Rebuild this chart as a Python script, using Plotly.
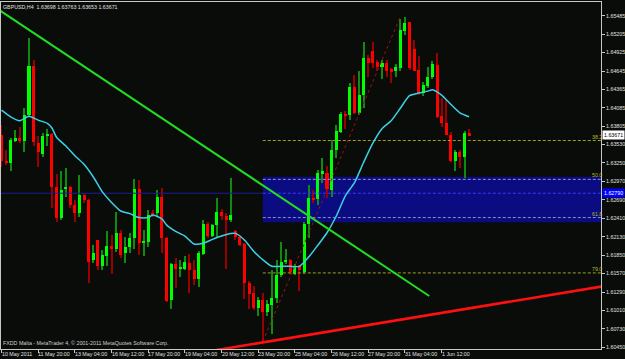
import plotly.graph_objects as go

# ---------------- data ----------------
bar_index = list(range(103))
opens = [1.6367, 1.6328, 1.6325, 1.6359, 1.6363, 1.6359, 1.6398, 1.6472, 1.6356, 1.6339,
         1.6366, 1.6369, 1.6289, 1.6241, 1.6285, 1.6288, 1.6261, 1.6249, 1.6276, 1.6269,
         1.6178, 1.6208, 1.6169, 1.6184, 1.6199, 1.6195, 1.6219, 1.6188, 1.6198, 1.6211,
         1.6285, 1.6203, 1.6205, 1.6249, 1.6249, 1.6274, 1.6211, 1.6117, 1.6172, 1.6164,
         1.6164, 1.6173, 1.6162, 1.6149, 1.6187, 1.6232, 1.6214, 1.6231, 1.6251, 1.6244,
         1.6238, 1.6221, 1.6213, 1.6202, 1.6143, 1.6127, 1.6104, 1.6117, 1.6098, 1.6109,
         1.6120, 1.6155, 1.6175, 1.6178, 1.6157, 1.6169, 1.6160, 1.6233, 1.6272, 1.6270,
         1.6309, 1.6310, 1.6284, 1.6344, 1.6372, 1.6400, 1.6397, 1.6441, 1.6401, 1.6428,
         1.6485, 1.6495, 1.6478, 1.6471, 1.6476, 1.6467, 1.6465, 1.6469, 1.6526, 1.6539,
         1.6498, 1.6466, 1.6431, 1.6442, 1.6455, 1.6474, 1.6396, 1.6385, 1.6367, 1.6328,
         1.6341, 1.6334, 1.63698]
highs = [1.6383, 1.6345, 1.6363, 1.6375, 1.6380, 1.6408, 1.6514, 1.6482, 1.6366, 1.6370,
         1.6377, 1.6371, 1.6308, 1.6312, 1.6317, 1.6290, 1.6269, 1.6307, 1.6278, 1.6270,
         1.6200, 1.6208, 1.6193, 1.6221, 1.6216, 1.6251, 1.6223, 1.6213, 1.6218, 1.6300,
         1.6299, 1.6223, 1.6254, 1.6254, 1.6284, 1.6287, 1.6213, 1.6173, 1.6180, 1.6178,
         1.6184, 1.6187, 1.6178, 1.6192, 1.6239, 1.6236, 1.6233, 1.6271, 1.6255, 1.6249,
         1.6302, 1.6223, 1.6216, 1.6203, 1.6145, 1.6138, 1.6122, 1.6127, 1.6117, 1.6162,
         1.6178, 1.6205, 1.6195, 1.6179, 1.6171, 1.6170, 1.6236, 1.6292, 1.6284, 1.6314,
         1.6332, 1.6320, 1.6360, 1.6383, 1.6403, 1.6404, 1.6446, 1.6459, 1.6464, 1.6508,
         1.6489, 1.6509, 1.6482, 1.6482, 1.6481, 1.6469, 1.6475, 1.6543, 1.6547, 1.6539,
         1.6512, 1.6487, 1.6448, 1.6470, 1.6479, 1.6492, 1.6423, 1.6421, 1.6372, 1.6345,
         1.6345, 1.6374, 1.63763]
lows = [1.6319, 1.6322, 1.6313, 1.6357, 1.6355, 1.6342, 1.6395, 1.6350, 1.6319, 1.6334,
        1.6350, 1.6256, 1.6235, 1.6239, 1.6274, 1.6257, 1.6236, 1.6243, 1.6264, 1.6143,
        1.6173, 1.6162, 1.6162, 1.6168, 1.6157, 1.6190, 1.6180, 1.6173, 1.6188, 1.6195,
        1.6185, 1.6184, 1.6198, 1.6243, 1.6243, 1.6188, 1.6114, 1.6103, 1.6135, 1.6152,
        1.6162, 1.6128, 1.6140, 1.6136, 1.6185, 1.6211, 1.6213, 1.6213, 1.6238, 1.6164,
        1.6236, 1.6208, 1.6199, 1.6118, 1.6103, 1.6102, 1.6092, 1.6054, 1.6092, 1.6066,
        1.6112, 1.6152, 1.6172, 1.6156, 1.6155, 1.6130, 1.6157, 1.6211, 1.6264, 1.6261,
        1.6294, 1.6271, 1.6274, 1.6332, 1.6370, 1.6376, 1.6390, 1.6400, 1.6398, 1.6408,
        1.6456, 1.6469, 1.6464, 1.6453, 1.6456, 1.6447, 1.6456, 1.6464, 1.6519, 1.6466,
        1.6464, 1.6428, 1.6427, 1.6438, 1.6452, 1.6393, 1.6380, 1.6367, 1.6327, 1.6312,
        1.6317, 1.6302, 1.63653]
closes = [1.6328, 1.6325, 1.6360, 1.6363, 1.6358, 1.6398, 1.6472, 1.6357, 1.6341, 1.6366,
          1.6368, 1.6288, 1.6241, 1.6284, 1.6289, 1.6261, 1.6249, 1.6276, 1.6268, 1.6175,
          1.6189, 1.6168, 1.6185, 1.6199, 1.6195, 1.6219, 1.6185, 1.6198, 1.6211, 1.6285,
          1.6203, 1.6207, 1.6246, 1.6246, 1.6274, 1.6211, 1.6116, 1.6172, 1.6164, 1.6167,
          1.6174, 1.6162, 1.6149, 1.6188, 1.6233, 1.6214, 1.6231, 1.6251, 1.6244, 1.6239,
          1.6246, 1.6212, 1.6200, 1.6142, 1.6126, 1.6104, 1.6117, 1.6098, 1.6111, 1.6120,
          1.6155, 1.6175, 1.6177, 1.6160, 1.6169, 1.6162, 1.6233, 1.6271, 1.6269, 1.6310,
          1.6312, 1.6285, 1.6344, 1.6373, 1.6400, 1.6396, 1.6441, 1.6401, 1.6428, 1.6485,
          1.6476, 1.6476, 1.6471, 1.6476, 1.6465, 1.6464, 1.6470, 1.6527, 1.6538, 1.6469,
          1.6465, 1.6431, 1.6443, 1.6455, 1.6475, 1.6395, 1.6385, 1.6367, 1.6328, 1.6342,
          1.6334, 1.6370, 1.63671]

ma_bars = [0, 2, 4, 6, 8, 10, 11, 12, 14, 16, 18, 20, 22, 24, 26, 28, 30, 32, 33, 35, 36,
           38, 40, 42, 44, 46, 48, 50, 51, 53, 55, 57, 59, 61, 63, 65, 67, 69, 71, 73, 75,
           77, 79, 81, 83, 85, 87, 89, 91, 93, 94, 96, 98, 100, 102]
ma_vals = [1.6405, 1.6395, 1.6389, 1.6396, 1.6390, 1.6385, 1.6378, 1.6364, 1.6351, 1.6336,
           1.6323, 1.6304, 1.6281, 1.6265, 1.6252, 1.6248, 1.6242, 1.6242, 1.6246, 1.6240,
           1.6231, 1.6221, 1.6214, 1.6202, 1.6203, 1.6209, 1.6214, 1.6218, 1.6218, 1.6208,
           1.6191, 1.6178, 1.6168, 1.6168, 1.6168, 1.6168, 1.6182, 1.6200, 1.6219, 1.6244,
           1.6275, 1.6295, 1.6326, 1.6355, 1.6377, 1.6389, 1.6408, 1.6427, 1.6431, 1.6434,
           1.6436, 1.6428, 1.6414, 1.6401, 1.6395]

x_tick_bars = [0, 8, 16, 24, 32, 40, 48, 56, 64, 72, 80, 88, 96]
x_tick_labels = ["10 May 2011", "11 May 20:00", "13 May 04:00", "16 May 12:00",
                 "17 May 20:00", "19 May 04:00", "20 May 12:00", "23 May 20:00",
                 "25 May 04:00", "26 May 12:00", "27 May 20:00", "31 May 04:00",
                 "1 Jun 12:00"]
price_ticks = [1.65485, 1.65205, 1.64925, 1.64645, 1.64365, 1.64085, 1.63805, 1.63530,
               1.63250, 1.62970, 1.62690, 1.62410, 1.62130, 1.61850, 1.61570, 1.61290,
               1.61010, 1.60730, 1.60450]
price_tick_labels = ["%.5f" % v for v in price_ticks]

green_tl_bars = [-2, 93.3]
green_tl_prices = [1.6564, 1.6123]
red_tl_bars = [40, 135]
red_tl_prices = [1.6033, 1.6142]
fib_base_bars = [57, 87]
fib_base_prices = [1.6054, 1.6547]
fib_labels = ["38.2", "50.0", "61.8", "79.0"]
fib_prices = [1.6359, 1.6300, 1.6242, 1.6158]
fib_start_bar = 57
zone_start_bar = 57
zone_top = 1.6304
zone_bottom = 1.6235
blue_line_price = 1.6279
blue_line_label = "1.62790"
last_price = 1.63671
header = "GBPUSD,H4  1.63698 1.63763 1.63653 1.63671"
credit = "FXDD Malta - MetaTrader 4, \u00a9 2001-2011 MetaQuotes Software Corp."

# ---------------- styling ----------------
BG = "#0a0c0a"
AX = "#c8c8c8"
FONT = "Liberation Sans"
FS = 5.3
X_RANGE = [-0.108, 130.77]
Y_RANGE = [1.60425, 1.65693]
X_FAR = 140

up_body, dn_body = "#00ff00", "#ff0000"
up_wick, dn_wick = "#108a10", "#990000"

fig = go.Figure()

# wicks (thin bars) then bodies
wick_colors = [up_wick if c >= o else dn_wick for o, c in zip(opens, closes)]
fig.add_trace(go.Bar(x=bar_index, base=lows, y=[h - l for h, l in zip(highs, lows)],
                     width=0.22, marker=dict(color=wick_colors, line=dict(width=0)),
                     hoverinfo="skip", showlegend=False))
body_colors = [up_body if c >= o else dn_body for o, c in zip(opens, closes)]
fig.add_trace(go.Bar(x=bar_index, base=[min(o, c) for o, c in zip(opens, closes)],
                     y=[max(abs(c - o), 0.00012) for o, c in zip(opens, closes)],
                     width=0.66, marker=dict(color=body_colors, line=dict(width=0)),
                     hoverinfo="skip", showlegend=False))

# blue horizontal line: solid outside the zone, dashed inside
fig.add_trace(go.Scatter(x=[X_RANGE[0] - 1, zone_start_bar], y=[blue_line_price] * 2,
                         mode="lines", line=dict(color="#1c1c96", width=1),
                         hoverinfo="skip", showlegend=False))
fig.add_trace(go.Scatter(x=[zone_start_bar, X_FAR], y=[blue_line_price] * 2,
                         mode="lines", line=dict(color="#3a3aff", width=1, dash="3px,2px"),
                         hoverinfo="skip", showlegend=False))

# fib levels
for lab, p in zip(fib_labels, fib_prices):
    inside = zone_bottom <= p <= zone_top
    fig.add_trace(go.Scatter(x=[fib_start_bar, X_FAR], y=[p, p], mode="lines",
                             line=dict(color="#9090c8" if inside else "#a0a020", width=1,
                                       dash="3px,2px"),
                             hoverinfo="skip", showlegend=False))
    fig.add_annotation(x=1, xref="paper", xanchor="right", xshift=2, y=p, yref="y",
                       yanchor="bottom", text=lab, showarrow=False, borderpad=0,
                       font=dict(family=FONT, size=FS, color="#b8b830"))

# fib base dotted line
fig.add_trace(go.Scatter(x=fib_base_bars, y=fib_base_prices, mode="lines",
                         line=dict(color="#a01010", width=1, dash="dot"),
                         hoverinfo="skip", showlegend=False))

# moving average
fig.add_trace(go.Scatter(x=ma_bars, y=ma_vals, mode="lines",
                         line=dict(color="#3cd2e6", width=1.5, shape="spline", smoothing=0.6),
                         hoverinfo="skip", showlegend=False))

# trend lines
fig.add_trace(go.Scatter(x=green_tl_bars, y=green_tl_prices, mode="lines",
                         line=dict(color="#22dd22", width=2),
                         hoverinfo="skip", showlegend=False))
fig.add_trace(go.Scatter(x=red_tl_bars, y=red_tl_prices, mode="lines",
                         line=dict(color="#ff1010", width=2.6),
                         hoverinfo="skip", showlegend=False))

# zone rectangle
fig.add_shape(type="rect", xref="x", yref="y", x0=zone_start_bar, x1=X_FAR,
              y0=zone_bottom, y1=zone_top, fillcolor="#0b0b82", line=dict(width=0),
              layer="below")

# x labels
for b, t in zip(x_tick_bars, x_tick_labels):
    fig.add_annotation(x=b, xref="x", xanchor="left", xshift=-1, y=0, yref="paper",
                       yanchor="top", yshift=-1, text=t, showarrow=False, borderpad=0,
                       font=dict(family=FONT, size=FS, color="#e0e0e0"))

# price boxes on the axis
fig.add_annotation(x=1, xref="paper", xanchor="left", xshift=1, y=last_price, yref="y",
                   text="%.5f" % last_price, showarrow=False, bgcolor="#ffffff",
                   borderpad=1, font=dict(family=FONT, size=FS, color="#000000"))
fig.add_annotation(x=1, xref="paper", xanchor="left", xshift=1, y=blue_line_price, yref="y",
                   text=blue_line_label, showarrow=False, bgcolor="#0000ff",
                   borderpad=1, font=dict(family=FONT, size=FS, color="#ffffff"))

# header and credit
fig.add_annotation(x=0, xref="paper", xanchor="left", xshift=1, y=1, yref="paper",
                   yanchor="top", yshift=-1, text=header, showarrow=False, borderpad=0,
                   font=dict(family=FONT, size=FS, color="#e0e0e0"))
fig.add_annotation(x=0, xref="paper", xanchor="left", xshift=1, y=0, yref="paper",
                   yanchor="bottom", yshift=2, text=credit, showarrow=False, borderpad=0,
                   font=dict(family=FONT, size=FS, color="#d0d0d0"))

fig.update_layout(
    width=625, height=359,
    margin=dict(l=0, r=21, t=2, b=10),
    paper_bgcolor=BG, plot_bgcolor=BG,
    barmode="overlay", bargap=0,
    showlegend=False,
    xaxis=dict(range=X_RANGE, tickvals=x_tick_bars, showticklabels=False,
               ticks="outside", ticklen=3, tickcolor=AX, showgrid=False, zeroline=False,
               showline=True, linecolor=AX, linewidth=1, mirror=True, fixedrange=True),
    yaxis=dict(range=Y_RANGE, side="right", tickvals=price_ticks, ticktext=price_tick_labels,
               ticks="outside", ticklen=3, tickcolor=AX, showgrid=False, zeroline=False,
               showline=True, linecolor=AX, linewidth=1, mirror=True,
               tickfont=dict(family=FONT, size=FS, color="#e0e0e0"), fixedrange=True),
)

fig.write_html("out.html")
